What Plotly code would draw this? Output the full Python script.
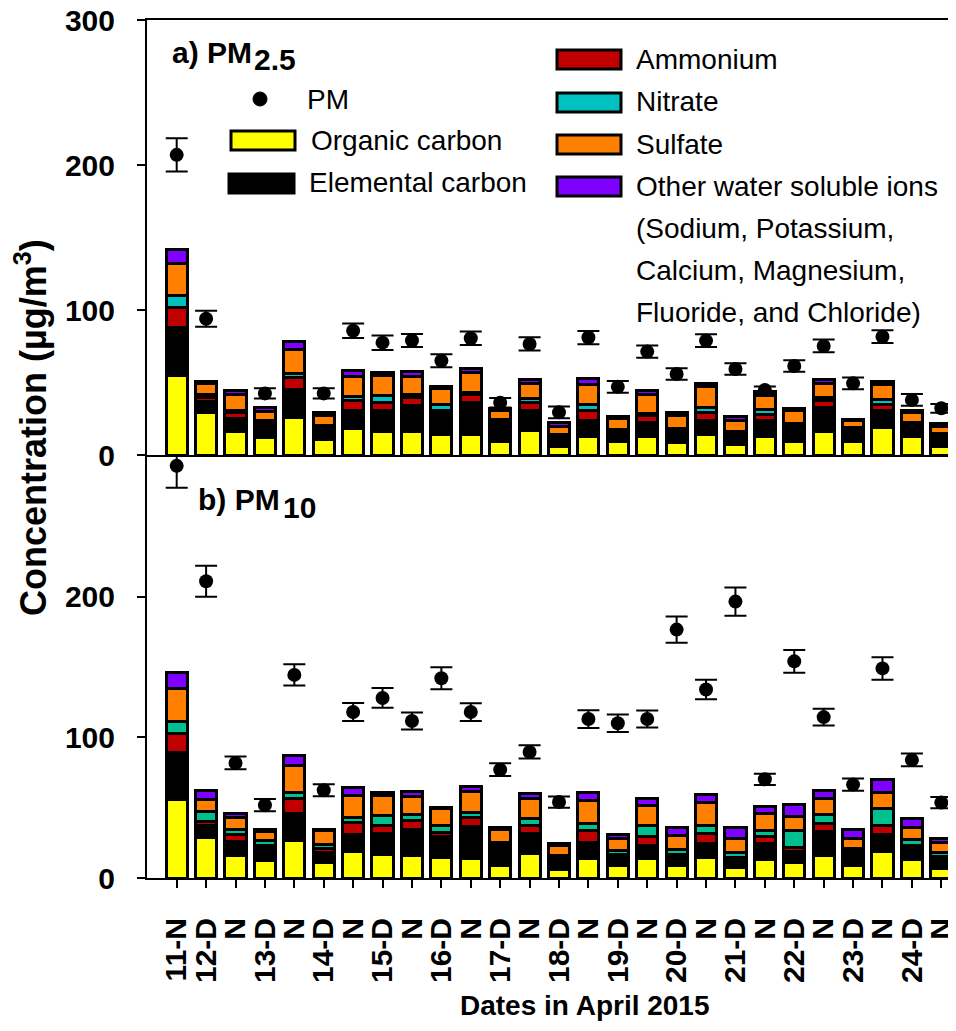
import numpy as np
import plotly.graph_objects as go
from plotly.subplots import make_subplots

labels = ["11-N", "12-D", "N", "13-D", "N", "14-D", "N", "15-D", "N", "16-D", "N", "17-D", "N",
          "18-D", "N", "19-D", "N", "20-D", "N", "21-D", "N", "22-D", "N", "23-D", "N", "24-D", "N"]

# PM2.5 components (ug/m3)
oc25 = [55, 29, 16, 12, 26, 11, 18.5, 16.5, 16, 14, 14, 9, 17, 6, 13, 9, 13, 8.5, 14, 7.5, 12.6, 9.2, 16, 9.2, 19, 12.6, 6.2]
ec25 = [33, 8, 9, 9, 19, 7, 12, 14.5, 18, 14.5, 22.5, 14, 14, 6, 11, 6, 9.5, 6.5, 10, 7, 11, 9.5, 17, 8.5, 11.5, 7.4, 7]
nh4_25 = [14, 3, 4, 2, 8.5, 2, 7, 5, 5.5, 2.5, 5, 1, 5, 1.5, 7, 1.5, 4.5, 1.5, 5, 1, 4, 2, 4.5, 1, 4.5, 1.5, 1]
no3_25 = [8, 2, 1.5, 1, 2.5, 0.5, 3, 5, 2.5, 4, 1.5, 0.5, 3, 0.5, 3.5, 1, 1.5, 2, 3.5, 1, 3.5, 1, 2, 0.5, 3.5, 1, 0.8]
so4_25 = [22, 7, 11, 6, 16.5, 7, 13.5, 14, 12, 11, 14, 6, 10, 6, 14, 7.5, 13, 9, 15, 7, 10, 9, 9.5, 4.5, 10, 7, 5]
oth25 = [10, 2, 3, 3, 6, 1.5, 4, 2, 3.5, 1, 3, 1.5, 3, 2.5, 4, 1.5, 3, 2, 2, 3, 2.5, 1.5, 3, 1, 2.5, 1, 1.5]
pm25 = [207, 94, None, 42.5, None, 42.5, 85.7, 77.5, 79, 65, 80.5, 36, 76.6, 29.4, 81, 47, 71.3, 55.9, 78.9,
        59.3, 44.8, 61.4, 75.2, 49.4, 81.6, 38, 32.2]
pm25_err = [11.5, 5.5, 0, 3.5, 0, 3.5, 5, 5, 4.5, 4.5, 4.7, 3.3, 4.6, 4, 4.6, 4, 4.3, 4, 4.4, 4, 2.5, 4, 4.4, 4,
            4.4, 4, 3]

# PM10 components (ug/m3)
oc10 = [56, 29, 16.3, 12.3, 27, 11, 19, 17, 16.3, 14.7, 14, 9.2, 17.5, 6.1, 14, 9.2, 14, 9.2, 14.4, 7.6, 13.2, 11, 16.3, 9.2, 19, 13.2, 7]
ec10 = [33, 8, 9.7, 8.5, 19, 7, 12, 14.5, 18.5, 14.5, 22.5, 13, 14, 6, 11, 6, 9, 5.8, 10, 5.5, 11, 8, 17, 9, 12, 7.5, 6]
nh4_10 = [14, 3.5, 5, 2.5, 10.5, 3, 8.5, 6, 6, 3, 6.5, 1, 6, 1.5, 9, 1.5, 6.5, 2, 7, 1.5, 5, 3, 5.5, 1, 6, 2.5, 2]
no3_10 = [8, 6.5, 3.5, 3.5, 4, 3, 3.5, 7, 4, 5, 3.5, 2, 4.5, 2.5, 4.5, 2.5, 8, 3.5, 6, 3.5, 4.5, 11.5, 6.5, 2, 12.5, 4, 3]
so4_10 = [24, 8.5, 8.5, 6.5, 19.5, 9.5, 15.5, 14.5, 13, 12, 15, 9, 14.5, 7, 16.5, 9, 14, 10, 16.5, 10, 12.5, 10.5, 11.5, 7, 11.5, 8.5, 7.5]
oth10 = [11, 6.5, 3, 1.5, 7, 1, 6, 1.5, 4, 1, 3.5, 1.5, 3.5, 1.5, 5.5, 2.5, 5, 5.5, 5.5, 7.5, 4.5, 8.5, 5.5, 6, 9, 6.5, 2.5]
pm10 = [293, 211, 81.8, 51.8, 144.4, 62.4, 118, 128, 111.6, 142, 118, 77, 89.6, 54, 113, 110, 113, 176.6, 134,
        196.5, 70.2, 154, 114.4, 66.4, 149, 84, 53.6]
pm10_err = [15.6, 11, 4.5, 4.4, 7.5, 4.3, 6.4, 7, 6, 7.8, 6.3, 4.5, 4.7, 4, 6.3, 6.2, 6, 9.3, 7, 10, 4, 8, 6, 4.3,
            8, 4.5, 4]

yticks_top = [0, 100, 200, 300]
yticks_bot = [0, 100, 200]

C_OC = "#FFFF00"
C_EC = "#000000"
C_NH4 = "#C00000"
C_NO3 = "#00C0C0"
C_NO3b = "#00C090"
C_SO4 = "#FF8000"
C_OTH = "#8000FF"

FONT = "Liberation Sans, Arial, sans-serif"
OFF = 8  # page body margin
W, H = 956 - OFF, 1031 - OFF
L, T = 147 - OFF, 20 - OFF
PW, PH = 809, 858
R, B = W - L - PW, H - T - PH


def PX(px):
    return (px - OFF - L) / PW


def PY(py):
    return (T + PH - (py - OFF)) / PH


x = np.arange(len(labels))

fig = make_subplots(rows=2, cols=1, shared_xaxes=True, vertical_spacing=0.0)

panels = [
    (1, [oc25, ec25, nh4_25, no3_25, so4_25, oth25], [C_OC, C_EC, C_NH4, C_NO3, C_SO4, C_OTH], pm25, pm25_err),
    (2, [oc10, ec10, nh4_10, no3_10, so4_10, oth10], [C_OC, C_EC, C_NH4, C_NO3b, C_SO4, C_OTH], pm10, pm10_err),
]
names = ["Organic carbon", "Elemental carbon", "Ammonium", "Nitrate", "Sulfate", "Other water soluble ions"]
for row, comps, cols, pm, err in panels:
    for vals, col, nm in zip(comps, cols, names):
        fig.add_trace(go.Bar(x=x, y=vals, name=nm, width=0.72,
                             marker=dict(color=col, line=dict(color="black", width=3)),
                             showlegend=False), row=row, col=1)
    fig.add_trace(go.Scatter(x=x, y=pm, mode="markers", name="PM",
                             marker=dict(color="black", size=14),
                             error_y=dict(type="data", array=err, visible=True, color="black",
                                          thickness=2, width=11),
                             showlegend=False), row=row, col=1)

fig.update_layout(
    width=W, height=H, barmode="stack", bargap=0.28,
    margin=dict(l=L, r=R, t=T, b=B, autoexpand=False),
    plot_bgcolor="white", paper_bgcolor="white",
    font=dict(family=FONT, color="black"),
)

tickfont = dict(family=FONT, size=30, color="black", weight="bold")
fig.update_xaxes(range=[-1.01, 26.5], showgrid=False, zeroline=False, automargin=False)
fig.update_layout(
    xaxis=dict(showline=True, linecolor="black", linewidth=2, mirror=True, ticks="",
               showticklabels=False),
    xaxis2=dict(showline=True, linecolor="black", linewidth=2, ticks="outside", ticklen=8,
                tickwidth=2, tickcolor="black", tickvals=list(x), ticktext=labels, tickangle=-90,
                tickfont=tickfont, ticklabelstandoff=18, ticklabeloverflow="allow"),
    yaxis=dict(domain=[PY(455), 1], range=[0, 300], tickvals=yticks_top, showline=True,
               linecolor="black", linewidth=2, ticks="outside", ticklen=8, tickwidth=2,
               tickcolor="black", tickfont=tickfont, showgrid=False, zeroline=False,
               ticklabelstandoff=16, ticklabeloverflow="allow", automargin=False),
    yaxis2=dict(domain=[0, PY(456)], range=[0, 300], tickvals=yticks_bot, showline=True,
                linecolor="black", linewidth=2, ticks="outside", ticklen=8, tickwidth=2,
                tickcolor="black", tickfont=tickfont, showgrid=False, zeroline=False,
                ticklabelstandoff=16, ticklabeloverflow="allow", automargin=False),
)

shapes = []
annots = []


def box(x0, y0, x1, y1, fill):
    shapes.append(dict(type="rect", xref="paper", yref="paper", x0=PX(x0), x1=PX(x1), y0=PY(y1), y1=PY(y0),
                       fillcolor=fill, line=dict(color="black", width=3), layer="above"))


def text(t, px, py, size=28, bold=False, xanchor="left", yanchor="middle", angle=0):
    annots.append(dict(text=t, xref="paper", yref="paper", x=PX(px), y=PY(py), showarrow=False,
                       xanchor=xanchor, yanchor=yanchor, textangle=angle,
                       font=dict(family=FONT, size=size, color="black",
                                 weight="bold" if bold else "normal")))


# legend (left column)
shapes.append(dict(type="circle", xref="paper", yref="paper", x0=PX(253), x1=PX(267), y0=PY(106), y1=PY(92),
                   fillcolor="black", line=dict(color="black", width=1)))
text("PM", 305, 99)
box(231, 131, 295, 150, C_OC)
text("Organic carbon", 309, 140)
box(229, 174, 294, 193, C_EC)
text("Elemental carbon", 307, 183)
# legend (right column)
box(557, 50, 621, 69, C_NH4)
text("Ammonium", 634, 60)
box(557, 93, 621, 112, C_NO3)
text("Nitrate", 634, 102)
box(557, 135, 621, 154, C_SO4)
text("Sulfate", 634, 144)
box(557, 177, 621, 196, C_OTH)
for i, line in enumerate(["Other water soluble ions", "(Sodium, Potassium,", "Calcium, Magnesium,",
                          "Fluoride, and Chloride)"]):
    text(line, 634, 186 + 42 * i)

# panel titles
text("a) PM", 170, 53, size=30, bold=True)
text("2.5", 252, 60, size=30, bold=True)
text("b) PM", 196, 500, size=30, bold=True)
text("10", 281, 507, size=30, bold=True)

# axis titles
text("Concentration (µg/m<sup>3</sup>)", 31, 428, size=36, bold=True, xanchor="center", angle=-90)
text("Dates in April 2015", 585, 1005, size=28, bold=True, xanchor="center")

fig.update_layout(shapes=shapes, annotations=annots)
fig.write_html("out.html")
